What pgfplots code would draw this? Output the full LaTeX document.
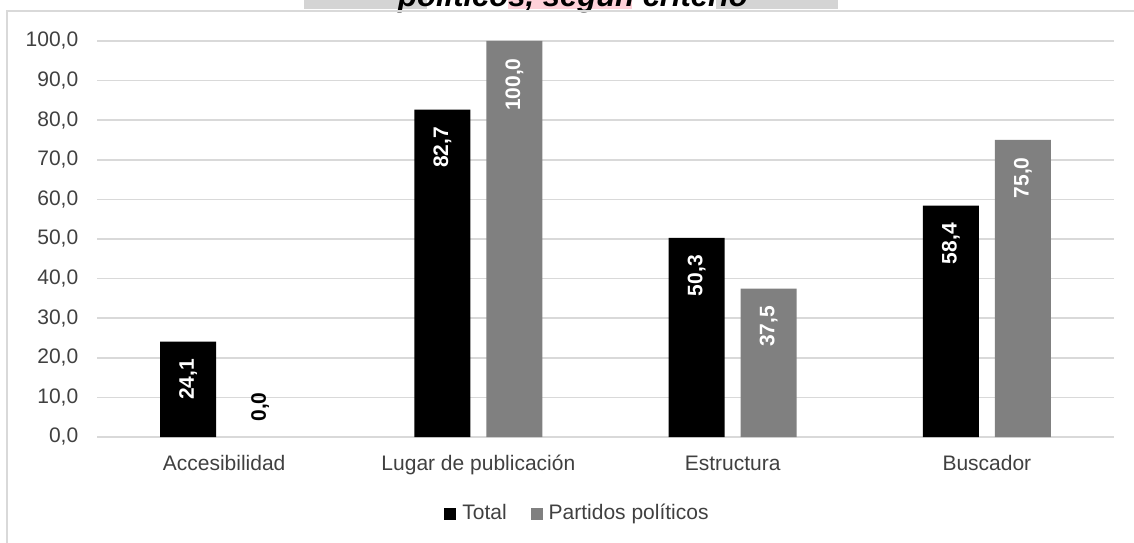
\documentclass[border=0pt]{standalone}
\usepackage{pgfplots}
\pgfplotsset{compat=1.18}
\usepackage{fontspec}
\setmainfont{Liberation Sans}
\definecolor{gridc}{HTML}{D9D9D9}
\definecolor{barg}{HTML}{808080}
\definecolor{boxg}{HTML}{D4D4D4}
\definecolor{boxp}{HTML}{FFD1D9}
\definecolor{txt}{HTML}{404040}
\newcommand\fs{\fontsize{10.5}{12.6}\selectfont}
\begin{document}
\begin{tikzpicture}
\useasboundingbox (0,0) rectangle (567pt,271pt);
% cropped title strip
\fill[boxg] (152pt,266.25pt) rectangle (213.5pt,290pt);
\fill[boxp] (254pt,266.25pt) rectangle (316pt,290pt);
\fill[boxg] (358pt,266.25pt) rectangle (419pt,290pt);
\node[anchor=base, inner sep=0pt, font=\bfseries\itshape\fontsize{15.5}{18}\selectfont] at (286.5pt,267.5pt) {políticos, según criterio};
% chart frame
\draw[gridc, line width=0.9pt] (3.5pt,-10pt) -- (3.5pt,265.5pt) -- (620pt,265.5pt);
\begin{axis}[
  at={(48.5pt,52.5pt)}, anchor=south west,
  x=127.125pt, y=1.98pt,
  xmin=-0.5, xmax=3.5, ymin=0, ymax=100,
  ybar, bar width=28pt,
  legend image code/.code={\fill[#1] (0pt,-3pt) rectangle (6pt,3pt);},
  axis line style={draw=none},
  ymajorgrids, grid style={gridc, line width=0.75pt},
  major tick length=0pt,
  ytick={0,10,...,100},
  xtick={0,1,2,3},
  xticklabels={Accesibilidad, Lugar de publicación, Estructura, Buscador},
  yticklabel={\pgfmathprintnumber[fixed,fixed zerofill,precision=1,use comma,assume math mode=true]{\tick}},
  yticklabel style={inner sep=0pt, anchor=east, xshift=-9.2pt, text=txt, font=\fs},
  xticklabel style={inner sep=0pt, anchor=north, yshift=-9pt, text=txt, font=\fs, text height=0.75em, text depth=0.2em},
  clip=false,
  legend style={draw=none, fill=none, at={(0.4744,-0.194)}, anchor=center,
    legend columns=2, font=\fs, text=txt, inner sep=0pt,
    nodes={inner sep=0pt, inner xsep=3pt, text height=0.72em, text depth=0.2em},
    /tikz/every even column/.append style={column sep=9pt}},
]
\addplot[fill=black, draw=none, bar shift=-18pt,
  nodes near coords={\pgfmathprintnumber[fixed,fixed zerofill,precision=1,use comma,assume math mode=true]{\pgfplotspointmeta}},
  nodes near coords style={white, rotate=90, anchor=east, inner xsep=8.5pt, inner ysep=0pt, font=\bfseries\fs}]
  coordinates {(0,24.1) (1,82.7) (2,50.3) (3,58.4)};
\addlegendentry{Total}
\addplot[fill=barg, draw=none, bar shift=18pt,
  nodes near coords={\pgfmathprintnumber[fixed,fixed zerofill,precision=1,use comma,assume math mode=true]{\pgfplotspointmeta}},
  nodes near coords style={white, rotate=90, anchor=east, inner xsep=8.5pt, inner ysep=0pt, font=\bfseries\fs}]
  coordinates {(1,100.0) (2,37.5) (3,75.0)};
\addlegendentry{Partidos políticos}
\addplot[draw=none, fill=none, bar shift=18pt, forget plot,
  nodes near coords={\pgfmathprintnumber[fixed,fixed zerofill,precision=1,use comma,assume math mode=true]{\pgfplotspointmeta}},
  nodes near coords style={black, rotate=90, anchor=west, inner xsep=7.5pt, inner ysep=0pt, font=\bfseries\fs}]
  coordinates {(0,0.0)};
\end{axis}
\end{tikzpicture}
\end{document}
